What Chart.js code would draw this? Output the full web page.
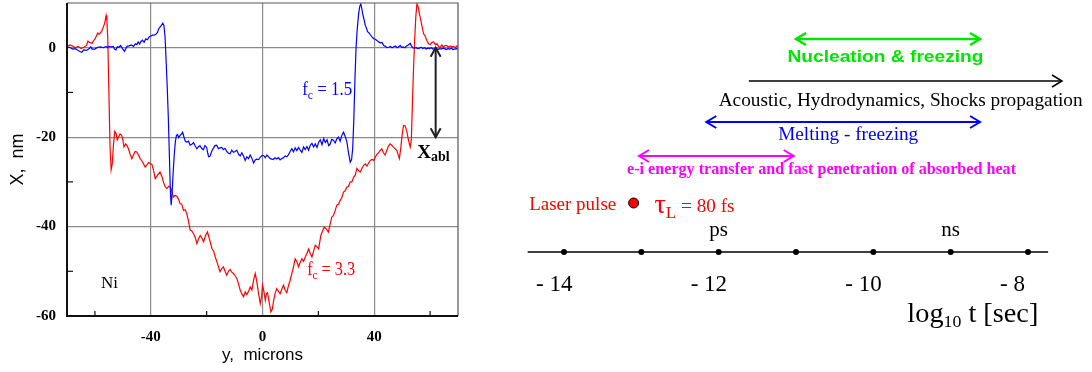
<!DOCTYPE html>
<html>
<head>
<meta charset="utf-8">
<script src="https://cdn.jsdelivr.net/npm/chart.js@4.4.1/dist/chart.umd.min.js"></script>
<style>
  body { margin: 0; background: #fff; }
  #wrap { position: relative; width: 1092px; height: 372px; }
  #profile { position: absolute; left: 0; top: 0; }
  #timeline { position: absolute; left: 470px; top: 0; }
</style>
</head>
<body>
<div id="wrap">
  <canvas id="profile" width="470" height="372"></canvas>
  <canvas id="timeline" width="622" height="372"></canvas>
</div>
<script>
// ---- crater profiles: y (microns) vs X (nm), Ni ----
const blueX = [
  -70,-69,-68,-67,-66,-65.2,-64.7,-64,-63,-62,
  -61.5,-61,-60,-59,-58,-57,-56,-55.5,-55,-54,
  -53.4,-53,-52.5,-52,-51.4,-50.8,-50,-49.4,-49,-48.5,
  -47.8,-47,-46.2,-45.5,-45,-44.5,-44,-43.5,-43,-42.4,
  -41.8,-41.2,-40.6,-40,-39.4,-38.8,-38.2,-37.6,-37.2,-36.7,
  -36.2,-35.7,-35.3,-34.9,-34.5,-34.1,-33.7,-33.3,-33,-32.7,
  -32.4,-32,-31.6,-31.2,-30.8,-30.4,-30,-29.5,-29,-28.6,
  -28.2,-27.6,-27.1,-26.5,-25.9,-25.3,-24.7,-24.1,-23.5,-23,
  -22.4,-21.8,-21.2,-20.6,-20,-19.6,-19.3,-18.8,-18.2,-17.6,
  -17,-16.4,-15.8,-15.2,-14.6,-14,-13.4,-12.8,-12.2,-11.6,
  -11,-10.4,-9.8,-9.2,-8.6,-8,-7.4,-6.8,-6.2,-5.6,
  -5,-4.4,-3.8,-3.2,-2.6,-2,-1.4,-0.8,-0.2,0.4,
  1,1.6,2.2,2.8,3.4,3.9,4.5,5.1,5.7,6.3,
  6.9,7.5,8.1,8.7,9.3,9.9,10.5,11.1,11.7,12.3,
  12.9,13.5,14.1,14.7,15.3,15.9,16.5,17.1,17.7,18.3,
  18.9,19.5,20.1,20.7,21.3,21.9,22.5,23.1,23.7,24.2,
  24.8,25.4,26,26.6,27.2,27.8,28.4,29,29.6,30.2,
  30.8,31.4,31.9,32.3,32.7,33.1,33.5,33.9,34.4,34.8,
  35.2,35.6,36,36.4,36.8,37.2,37.6,38,38.6,39.2,
  39.8,40.4,41,41.6,42.2,42.8,43.4,44,44.6,45.2,
  45.8,46.4,47,47.6,48.2,48.8,49.3,49.8,50.4,51,
  51.6,52.2,52.9,53.3,53.8,54.4,55,55.6,56.2,56.8,
  57.4,58,58.6,59.2,59.8,60.4,61,61.6,62.2,62.8,
  63.4,64,64.6,65.2,65.8,66.4,67,67.6,68.2,68.8,
  69.4,70
];
const blueY = [
  0,0.1,-0.3,-0.2,-0.6,-0.9,-1.0,-0.5,-0.6,-0.2,
  0.2,-0.3,-0.3,0.1,0.2,0.0,0.3,0.0,0.3,0.2,
  0.3,-0.3,-0.5,0.2,0.1,0.5,-0.3,-0.8,-0.3,0.3,
  0.4,0.6,0.3,0.9,0.7,1.3,0.8,1.4,1.7,1.2,
  2.0,1.8,2.4,2.6,2.8,2.8,3.0,3.4,4.2,4.6,
  5.0,5.5,5.0,2.5,-3,-9,-16,-25,-32,-35.2,
  -33,-28,-24,-21,-19.6,-19.4,-20.1,-19.6,-19.3,-18.9,
  -19.8,-21.0,-21.1,-20.9,-21.8,-21.6,-21.2,-22.0,-22.6,-22.2,
  -21.9,-22.5,-22.8,-21.9,-22.3,-23.6,-24.4,-24.3,-23.2,-22.5,
  -21.9,-21.8,-22.6,-22.4,-22.3,-22.8,-22.5,-23.2,-23.6,-23.7,
  -22.9,-23.4,-23.2,-22.9,-23.8,-24.2,-23.5,-24.2,-25.2,-24.4,
  -24.8,-24.0,-24.7,-25.8,-25.1,-24.9,-25.0,-24.5,-24.1,-24.1,
  -24.6,-24.0,-24.4,-24.8,-24.9,-25.0,-24.6,-24.9,-24.6,-25.1,
  -24.8,-24.6,-24.2,-24.4,-23.9,-23.2,-22.6,-23.3,-22.4,-23.0,
  -22.3,-22.9,-23.4,-22.2,-22.8,-22.1,-22.9,-21.8,-21.4,-22.2,
  -21.5,-22.3,-21.2,-20.6,-21.7,-20.3,-21.2,-20.6,-21.9,-21.6,
  -20.5,-20.7,-21.3,-20.4,-20.0,-20.9,-19.6,-18.9,-19.8,-21.0,
  -23.5,-25.6,-25.0,-22.5,-16,-7,0,4,7.5,9.2,
  9.8,8.6,7.2,6.2,5.0,4.4,3.6,3.4,2.9,2.4,
  2.0,1.9,1.6,1.3,1.1,1.2,0.5,0.3,0.0,0.1,
  0.3,0.0,0.2,0.4,0.0,0.2,0.5,0.1,0.2,0.0,
  0.4,0.6,1.0,0.4,0.0,-0.1,0.0,-0.2,-0.1,0.1,
  -0.2,0.0,-0.3,-0.1,-0.2,0.0,-0.3,-0.2,-0.1,-0.4,
  -0.2,-0.3,-0.1,-0.2,-0.4,-0.2,-0.3,-0.1,-0.4,-0.3,
  -0.2,-0.3
];
const redX = [
  -70,-69,-68,-67,-66,-65,-64,-63,-62.5,-62,
  -61,-60.5,-60,-59.5,-59,-58.5,-58,-57.5,-57,-56.5,
  -56,-55.7,-55.4,-55,-54.6,-54.2,-53.8,-53.4,-52.9,-52.4,
  -52,-51.6,-51,-50.4,-50,-49.6,-49,-48.4,-48,-47.4,
  -46.8,-46.2,-45.6,-45,-44.4,-43.8,-43,-42,-41.4,-40.8,
  -40.2,-39.6,-39,-38.4,-37.6,-36.7,-36,-35.5,-34.9,-34.3,
  -33.6,-33,-32.5,-31.9,-31.3,-30.7,-30.1,-29.5,-28.9,-28.3,
  -27.7,-27.1,-26.5,-25.9,-25.3,-24.7,-24.1,-23.5,-22.9,-22.3,
  -21.7,-21.1,-20.4,-19.7,-19,-18.1,-17.5,-16.9,-16,-15.2,
  -14.6,-14,-13.4,-12.8,-12.2,-11.6,-11,-10.4,-9.8,-9.2,
  -8.6,-8,-7.4,-6.8,-6.2,-5.6,-5,-4.4,-3.8,-3.2,
  -2.6,-2,-1.4,-0.8,-0.3,0,0.5,1,1.4,1.8,
  2.4,3,3.5,4,4.5,5.1,5.7,6.3,6.9,7.5,
  8.1,8.7,9.3,9.9,10.5,11.1,11.7,12.3,12.9,13.5,
  14.1,14.7,15.3,15.9,16.5,17.1,17.7,18.3,18.9,19.5,
  20.1,20.5,20.9,21.5,22.1,22.8,23.6,24.2,24.8,25.4,
  26,26.6,27.2,27.8,28.4,29,29.6,30.2,30.8,31.4,
  32,32.6,33.2,33.8,34.4,35,35.6,36.2,36.8,37.4,
  38,38.6,39.2,39.8,40.4,41,41.6,42.1,42.7,43.3,
  43.9,44.5,45.1,45.7,46.3,46.9,47.5,48.1,48.5,49,
  49.5,50,50.5,51.1,51.7,52.3,52.9,53.3,53.7,54.1,
  54.5,54.9,55.3,55.8,56.2,56.7,57.2,57.7,58.3,58.9,
  59.5,60.1,60.7,61.3,61.9,62.5,63.1,63.6,64.2,64.8,
  65.4,66,66.6,67.2,67.8,68.4,69,69.6,70
];
const redY = [
  0.2,0.6,0.4,0.0,0.3,-0.2,0.1,0.5,1.5,1.2,
  1.0,1.6,1.9,2.6,3.3,3.0,3.4,3.8,4.6,5.5,
  7.2,6.0,2.0,-10,-22,-27.3,-26,-22,-18.7,-19.2,
  -20.6,-20.0,-19.3,-19.6,-20.6,-22.2,-21.5,-22.0,-22.6,-23.8,
  -24.8,-24.0,-23.2,-23.3,-24.0,-24.8,-25.5,-26.7,-26.2,-25.7,
  -25.9,-26.1,-27.5,-29.3,-28.5,-27.8,-28.8,-30.0,-31.0,-31.5,
  -31.0,-31.2,-32.0,-33.4,-33.0,-33.2,-33.8,-34.9,-35.0,-36.4,
  -36.2,-37.1,-38.8,-40.8,-41.0,-41.6,-42.4,-43.8,-42.8,-42.0,
  -42.6,-43.4,-42.0,-41.2,-42.8,-44.9,-45.5,-46.8,-48.5,-50.1,
  -49.4,-49.0,-50.0,-50.9,-50.0,-49.6,-50.2,-50.5,-51.0,-51.6,
  -52.8,-54.2,-55.0,-55.7,-54.6,-55.2,-54.5,-53.5,-54.2,-52.0,
  -50.5,-52.5,-55.0,-57.2,-55.5,-53.1,-54.5,-56.5,-55.0,-54.8,
  -57.0,-59.1,-58.5,-56.5,-55.0,-53.9,-54.5,-55.0,-54.0,-53.1,
  -54.2,-54.8,-53.2,-52.0,-50.5,-49.0,-47.2,-47.8,-49.0,-48.0,
  -47.2,-47.8,-46.8,-46.0,-45.0,-46.0,-46.8,-45.5,-44.2,-44.5,
  -45.0,-43.5,-42.0,-41.0,-40.1,-40.5,-41.2,-39.5,-37.9,-37.5,
  -36.5,-35.2,-35.0,-34.2,-33.5,-32.3,-32.0,-31.2,-31.0,-30.0,
  -30.0,-29.0,-28.5,-27.0,-27.5,-27.8,-27.0,-26.3,-26.0,-26.5,
  -25.8,-25.2,-25.0,-25.2,-24.5,-23.8,-23.5,-23.0,-22.6,-23.5,
  -24.0,-23.0,-22.0,-21.5,-21.8,-22.3,-22.6,-23.0,-23.8,-24.8,
  -22.5,-19.5,-17.4,-17.5,-18.8,-20.8,-22.2,-20.5,-12,-4.3,
  2,7,9.8,9.0,7.5,6.1,4.5,3.1,2.5,1.5,
  0.9,0.7,1.2,1.3,0.7,0.9,0.2,0.1,0.6,0.2,
  0.5,0.5,0.1,0.4,0.2,0.3,0.0,0.4,0.3
];
const xMajorTicks = [-40, 0, 40];
const xMinorTicks = [-60, -20, 20, 60];
const yMajorTicks = [-60, -40, -20, 0];
const yMinorTicks = [-10, -30, -50];
const ablX = 62;
const ablRange = [0, -20];

// ---- time scales of the processes, log10 t [sec] ----
const decades = [-14, -13, -12, -11, -10, -9, -8];
const decadeLabels = [-14, -12, -10, -8];
const unitNames = ['ps', 'ns'];
const unitDecades = [-12, -9];
const timeAxis = [-14.47, -7.74];
const processNames = [
  'Nucleation & freezing',
  'Acoustic, Hydrodynamics, Shocks propagation',
  'Melting - freezing',
  'e-i energy transfer and fast penetration of absorbed heat'
];
const processStart = [-11.0, -11.61, -12.16, -13.03];
const processEnd = [-8.62, -7.56, -8.62, -11.03];
const processHeads = ['both', 'end', 'both', 'both'];
const laserLog = -13.1;

const toPts = (xs, ys) => xs.map((v, i) => ({ x: v, y: ys[i] }));
const serif = 'Liberation Serif';
const sans = 'Liberation Sans';

function drawRich(ctx, parts, x, y, color, width) {
  // parts: [text, font, dy]
  ctx.save();
  ctx.fillStyle = color;
  ctx.textBaseline = 'middle';
  ctx.textAlign = 'left';
  let total = 0;
  parts.forEach(p => { ctx.font = p[1]; total += ctx.measureText(p[0]).width; });
  const k = width ? width / total : 1;
  ctx.translate(x, y);
  ctx.scale(k, 1);
  let cx = 0;
  parts.forEach(p => {
    ctx.font = p[1];
    ctx.fillText(p[0], cx, p[2] || 0);
    cx += ctx.measureText(p[0]).width;
  });
  ctx.restore();
}

function chevron(ctx, x, y, dx, dy, len, half) {
  // tip at (x,y), pointing along (dx,dy)
  const nx = -dy, ny = dx;
  ctx.beginPath();
  ctx.moveTo(x - dx * len + nx * half, y - dy * len + ny * half);
  ctx.lineTo(x, y);
  ctx.lineTo(x - dx * len - nx * half, y - dy * len - ny * half);
  ctx.stroke();
}

const profileDecor = {
  id: 'profileDecor',
  afterDatasetsDraw(chart) {
    const { ctx, chartArea: a, scales: { x, y } } = chart;
    ctx.save();
    ctx.lineCap = 'butt';
    ctx.strokeStyle = '#555';
    ctx.lineWidth = 1.2;
    ctx.beginPath();
    ctx.moveTo(a.left, a.top); ctx.lineTo(a.right, a.top); ctx.lineTo(a.right, a.bottom);
    ctx.stroke();
    ctx.strokeStyle = '#111';
    ctx.lineWidth = 2;
    ctx.beginPath();
    ctx.moveTo(a.left, a.top); ctx.lineTo(a.left, a.bottom); ctx.lineTo(a.right, a.bottom);
    ctx.stroke();

    // minor ticks, pointing inwards
    ctx.lineWidth = 1.2;
    xMinorTicks.forEach(v => {
      const px = x.getPixelForValue(v);
      ctx.beginPath(); ctx.moveTo(px, a.bottom); ctx.lineTo(px, a.bottom - 5); ctx.stroke();
    });
    yMinorTicks.forEach(v => {
      const py = y.getPixelForValue(v);
      ctx.beginPath(); ctx.moveTo(a.left, py); ctx.lineTo(a.left + 6, py); ctx.stroke();
    });

    // ablation depth arrow heads
    const ax = x.getPixelForValue(ablX);
    ctx.strokeStyle = '#222';
    ctx.lineWidth = 2;
    chevron(ctx, ax, y.getPixelForValue(ablRange[0]), 0, -1, 9, 5);
    chevron(ctx, ax, y.getPixelForValue(ablRange[1]), 0, 1, 9, 5);
    ctx.restore();

    // labels
    drawRich(ctx, [['f', '19px ' + serif], ['c', '13px ' + serif, 6], [' = 1.5', '19px ' + serif]],
      x.getPixelForValue(14.2), y.getPixelForValue(-9.4), '#0000ff', 50);
    drawRich(ctx, [['f', '19px ' + serif], ['c', '13px ' + serif, 6], [' = 3.3', '19px ' + serif]],
      x.getPixelForValue(16.0), y.getPixelForValue(-49.7), '#ff0000', 48);
    drawRich(ctx, [['Ni', '17px ' + serif]],
      x.getPixelForValue(-57.8), y.getPixelForValue(-52.7), '#000');
    drawRich(ctx, [['X', 'bold 19px ' + serif], ['abl', 'bold 14px ' + serif, 4]],
      x.getPixelForValue(55.4), y.getPixelForValue(-23.6), '#000');
  }
};

const tickFont = { family: serif, weight: 'bold', size: 15 };

new Chart(document.getElementById('profile'), {
  type: 'scatter',
  data: {
    datasets: [
      { label: 'fc = 1.5', data: toPts(blueX, blueY), showLine: true, borderColor: '#0000ff',
        borderWidth: 1.2, pointRadius: 0, tension: 0 },
      { label: 'fc = 3.3', data: toPts(redX, redY), showLine: true, borderColor: '#ff0000',
        borderWidth: 1.2, pointRadius: 0, tension: 0 },
      { label: 'Xabl', data: [{ x: ablX, y: ablRange[0] }, { x: ablX, y: ablRange[1] }], showLine: true,
        borderColor: '#222', borderWidth: 2, pointRadius: 0 }
    ]
  },
  options: {
    responsive: false,
    animation: false,
    devicePixelRatio: 1,
    layout: { padding: { top: 3, right: 12, left: 0, bottom: 0 }, autoPadding: false },
    plugins: { legend: { display: false }, tooltip: { enabled: false } },
    scales: {
      x: {
        type: 'linear', min: -70, max: 70,
        afterBuildTicks: s => { s.ticks = xMajorTicks.map(v => ({ value: v })); },
        afterFit: s => { s.height = 56; s.paddingLeft = 0; s.paddingRight = 0; },
        ticks: { color: '#000', font: tickFont, padding: 12, maxRotation: 0, autoSkip: false },
        grid: { drawTicks: false, color: '#8a8a8a', lineWidth: 1.2 },
        border: { display: false },
        title: { display: true, text: 'y,  microns', color: '#000',
          font: { family: sans, size: 17 }, padding: { top: 0, bottom: 6 } }
      },
      y: {
        type: 'linear', min: -60, max: 10,
        afterBuildTicks: s => { s.ticks = yMajorTicks.map(v => ({ value: v })); },
        afterFit: s => { s.width = 67; s.paddingTop = 0; s.paddingBottom = 0; },
        ticks: { color: '#000', font: tickFont, padding: 11 },
        grid: { drawTicks: false, lineWidth: 1.2,
          color: c => (c.tick && c.tick.value > -60) ? '#8a8a8a' : 'rgba(0,0,0,0)' },
        border: { display: false },
        title: { display: true, text: 'X,  nm', color: '#000',
          font: { family: sans, size: 18 }, padding: { top: 7, bottom: 0 } }
      }
    }
  },
  plugins: [profileDecor]
});

// ---- timeline ----
// vertical placement of the rows (layout only)
const rowY = [39, 81, 122, 156];
const laserRow = 204;
const axisRow = 252;
const processColors = ['#00e600', '#000000', '#0000ff', '#ff00ff'];
const processWidths = [2.5, 1.5, 2, 2];

const timelineDecor = {
  id: 'timelineDecor',
  afterDatasetsDraw(chart) {
    const { ctx, scales: { x, y } } = chart;
    ctx.save();
    processNames.forEach((name, i) => {
      const py = y.getPixelForValue(rowY[i]);
      ctx.strokeStyle = processColors[i];
      ctx.lineWidth = processWidths[i];
      ctx.lineJoin = 'miter';
      chevron(ctx, x.getPixelForValue(processEnd[i]), py, 1, 0, 10, 6);
      if (processHeads[i] === 'both') chevron(ctx, x.getPixelForValue(processStart[i]), py, -1, 0, 10, 6);
    });
    ctx.restore();

    // process captions: [left edge (log t), row, width px, font]
    const cap = [
      [-11.11, 57, 196, 'bold 17px ' + sans],
      [-12.0, 101, 364, '18px ' + serif],
      [-11.23, 135, 140, '19px ' + serif],
      [-13.185, 170, 389, 'bold 16px ' + serif]
    ];
    processNames.forEach((name, i) => {
      drawRich(ctx, [[name, cap[i][3]]], x.getPixelForValue(cap[i][0]), y.getPixelForValue(cap[i][1]),
        processColors[i], cap[i][2]);
    });

    // laser pulse
    drawRich(ctx, [['Laser pulse', '19px ' + serif]], x.getPixelForValue(-14.45), y.getPixelForValue(laserRow + 1), '#ff0000', 87);
    drawRich(ctx, [['\u03c4', '28px ' + serif, 0], ['L', '17px ' + serif, 8], [' = 80 fs', '19px ' + serif, 1]],
      x.getPixelForValue(-12.83), y.getPixelForValue(laserRow + 2), '#ff0000', 80);

    // units above the axis
    unitNames.forEach((u, i) => {
      ctx.save();
      ctx.font = '21px ' + serif;
      ctx.fillStyle = '#000';
      ctx.textAlign = 'center';
      ctx.textBaseline = 'middle';
      ctx.fillText(u, x.getPixelForValue(unitDecades[i]), y.getPixelForValue(axisRow - 22));
      ctx.restore();
    });

    // decade labels
    decadeLabels.forEach(v => {
      drawRich(ctx, [['- ' + Math.abs(v), '23px ' + serif]], x.getPixelForValue(v) - 28,
        y.getPixelForValue(axisRow + 33), '#000');
    });

    // axis title
    drawRich(ctx, [['log', '27px ' + serif], ['10', '17px ' + serif, 8], [' t [sec]', '27px ' + serif]],
      x.getPixelForValue(-9.56), y.getPixelForValue(axisRow + 63), '#000', 131);
  }
};

const flat = (a, b, row) => [{ x: a, y: row }, { x: b, y: row }];

new Chart(document.getElementById('timeline'), {
  type: 'scatter',
  data: {
    datasets: [
      { data: flat(timeAxis[0], timeAxis[1], axisRow), showLine: true, borderColor: '#000',
        borderWidth: 1.5, pointRadius: 0 },
      { data: decades.map(v => ({ x: v, y: axisRow })), pointRadius: 3, backgroundColor: '#000',
        borderColor: '#000', borderWidth: 0 },
      { data: [{ x: laserLog, y: laserRow - 1 }], pointRadius: 5, backgroundColor: '#ff0000',
        borderColor: '#000', borderWidth: 1 },
      ...processNames.map((n, i) => ({
        label: n, data: flat(processStart[i], processEnd[i], rowY[i]), showLine: true,
        borderColor: processColors[i], borderWidth: processWidths[i], pointRadius: 0
      }))
    ]
  },
  options: {
    responsive: false,
    animation: false,
    devicePixelRatio: 1,
    layout: { padding: 0, autoPadding: false },
    plugins: { legend: { display: false }, tooltip: { enabled: false } },
    scales: {
      x: { type: 'linear', display: false, min: -15.2156, max: -7.1724 },
      y: { type: 'linear', display: false, min: 0, max: 372, reverse: true }
    }
  },
  plugins: [timelineDecor]
});
</script>
</body>
</html>
